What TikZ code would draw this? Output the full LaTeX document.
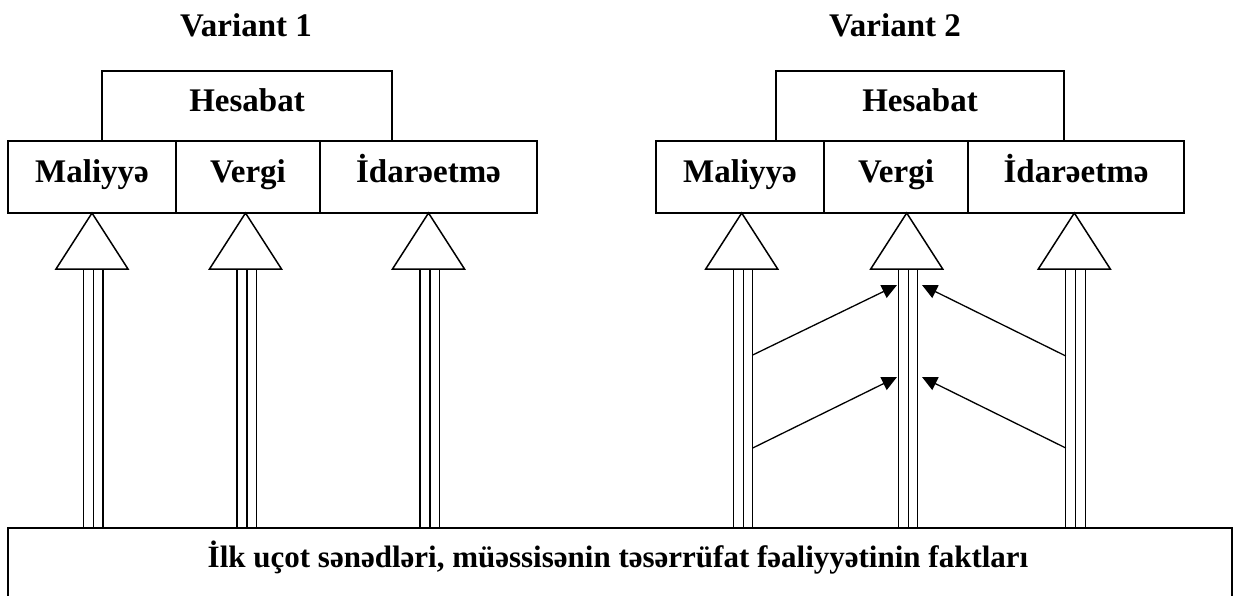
\documentclass[tikz,border=0pt]{standalone}
\usepackage{fontspec}
\setmainfont{Liberation Serif}
\usetikzlibrary{arrows.meta,calc}

\begin{document}
\begin{tikzpicture}[x=1pt, y=-1pt,
    lbl/.style={font=\fontsize{33}{38}\selectfont\bfseries, inner sep=0pt, text height=23pt, text depth=12pt},
    cell/.style={lbl, draw, line width=1.6pt, minimum height=72pt},
    tri/.style={draw, line width=1.5pt, line join=miter},
    rail/.style={draw, line width=1.3pt},
    link/.style={draw, line width=1.3pt, -{Triangle[length=15pt, width=14pt]}}]
    \useasboundingbox (0,0) rectangle (1233,595);

    % Variant 1
    \node[lbl] (v1) at (246,31) {Variant 1};
    \node[cell, minimum width=290pt, minimum height=70pt] (hes1) at (247,106) {Hesabat};
    \node[cell, minimum width=168pt] (mal1) at (92,177) {Maliyyə};
    \node[cell, minimum width=144pt] (ver1) at (248,177) {Vergi};
    \node[cell, minimum width=217pt] (ida1) at (428.5,177) {İdarəetmə};

    % Variant 2
    \node[lbl] (v2) at (895,31) {Variant 2};
    \node[cell, minimum width=288pt, minimum height=70pt] (hes2) at (920,106) {Hesabat};
    \node[cell, minimum width=168pt] (mal2) at (740,177) {Maliyyə};
    \node[cell, minimum width=144pt] (ver2) at (896,177) {Vergi};
    \node[cell, minimum width=216pt] (ida2) at (1076,177) {İdarəetmə};

    % Ilkin senedler
    \node[draw, line width=2pt, minimum width=1224pt, minimum height=100pt, anchor=north] (base) at (620,527) {};
    \node[lbl, font=\fontsize{31}{36}\selectfont\bfseries, text depth=7pt] (facts) at (618,559) {İlk uçot sənədləri, müəssisənin təsərrüfat fəaliyyətinin faktları};

    % triangles and rails
    \coordinate (t1) at (92,213);
    \coordinate (t2) at (245.5,213);
    \coordinate (t3) at (428.5,213);
    \coordinate (t4) at (741.7,213);
    \coordinate (t5) at (906.7,213);
    \coordinate (t6) at (1074.3,213);
    \foreach \t in {t1,t2,t3,t4,t5,t6} {
        \draw[tri] (\t) -- ++(36,56) -- ++(-72,0) -- cycle;
        \foreach \dx in {-8.5,1.5,11}
            \draw[rail] ($(\t)+(\dx,56)$) -- ($(\t|-base.north)+(\dx,0)$);
    }

    % links to Vergi
    \coordinate (s1) at (752.7,355);
    \coordinate (s2) at (752.7,448);
    \coordinate (s3) at (1065.8,356);
    \coordinate (s4) at (1065.8,448);
    \coordinate (e1) at (897,285);
    \coordinate (e2) at (897,377);
    \coordinate (e3) at (922,285);
    \coordinate (e4) at (922,377);
    \draw[link] (s1) -- (e1);
    \draw[link] (s2) -- (e2);
    \draw[link] (s3) -- (e3);
    \draw[link] (s4) -- (e4);
\end{tikzpicture}
\end{document}
